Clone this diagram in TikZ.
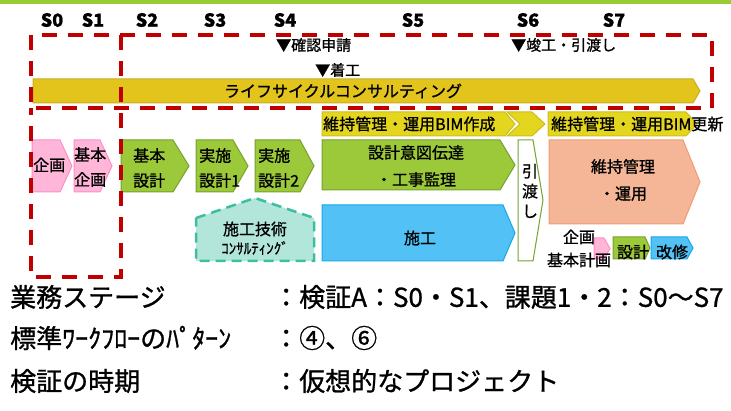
\documentclass[tikz,border=0pt]{standalone}
\usepackage{fontspec}
\setmainfont{Noto Sans CJK JP}[FakeBold=1.0]
\definecolor{topgreen}{HTML}{99CC33}
\definecolor{dred}{HTML}{C00000}
\definecolor{goldf}{HTML}{E2C41C}
\definecolor{goldl}{HTML}{C9AE22}
\definecolor{yelf}{HTML}{E4D61E}
\definecolor{yell}{HTML}{CDBE1E}
\definecolor{pinkf}{HTML}{FFB6D9}
\definecolor{pinkl}{HTML}{FF8EC6}
\definecolor{greenf}{HTML}{9BC93A}
\definecolor{greenl}{HTML}{76A22E}
\definecolor{bluef}{HTML}{52C2F6}
\definecolor{bluel}{HTML}{16A8EA}
\definecolor{salf}{HTML}{F4B696}
\definecolor{sall}{HTML}{F09C72}
\definecolor{tealf}{HTML}{B3E6DA}
\definecolor{teall}{HTML}{3DBF9F}
\newcommand\pentagon[6]{\path[#1] (#2,#3) -- (#4,#3) -- (#5,{(#3+#6)/2}) -- (#4,#6) -- (#2,#6) -- cycle;}
\tikzset{
  goldbar/.style={fill=goldf,draw=goldl,line width=1pt},
  yelbar/.style={fill=yelf,draw=yell,line width=1pt},
  pinkbox/.style={fill=pinkf,draw=pinkl,line width=1pt},
  greenbox/.style={fill=greenf,draw=greenl,line width=1pt},
  bluebox/.style={fill=bluef,draw=bluel,line width=1pt},
  salbox/.style={fill=salf,draw=sall,line width=1pt},
  whitebox/.style={fill=white,draw=greenl,line width=1pt},
  tealhouse/.style={fill=tealf,draw=teall,line width=2.5pt,dash pattern=on 10pt off 6pt},
  reddash/.style={draw=dred,line width=3.5pt,dash pattern=on 15pt off 11pt},
  stagelbl/.style={inner sep=0pt,font=\fontsize{18}{18}\selectfont\bfseries},
  txt/.style={inner sep=0pt,font=\fontsize{16}{16}\selectfont},
  twoline/.style={inner sep=0pt,align=left,font=\fontsize{16}{25}\selectfont},
  twolinec/.style={inner sep=0pt,align=center,font=\fontsize{16}{27}\selectfont},
  mile/.style={inner sep=0pt,anchor=west,font=\fontsize{15}{15}\selectfont},
  bigtxt/.style={inner sep=0pt,anchor=west,font=\fontsize{26}{26}\selectfont},
}
\begin{document}
\begin{tikzpicture}[x=1pt,y=-1pt]
\useasboundingbox (0,0) rectangle (731,411);
\fill[white] (0,0) rectangle (731,411);
\fill[topgreen] (0,0) rectangle (731,4);
% stage labels
\node[stagelbl] (s0) at (52,20) {S0};
\node[stagelbl] (s1) at (93,20) {S1};
\node[stagelbl] (s2) at (147,20) {S2};
\node[stagelbl] (s3) at (215,20) {S3};
\node[stagelbl] (s4) at (285,20) {S4};
\node[stagelbl] (s5) at (413,20) {S5};
\node[stagelbl] (s6) at (528,20) {S6};
\node[stagelbl] (s7) at (614,20) {S7};
% milestones
\node[mile] (m1) at (276,45) {▼確認申請};
\node[mile] (m2) at (315,70) {▼着工};
\node[mile] (m3) at (511,45) {▼竣工・引渡し};
% lifecycle bar
\pentagon{goldbar}{33}{79}{693}{700}{103}
\node[txt] (lc) at (343,91) {ライフサイクルコンサルティング};
% row 2 yellow
\pentagon{yelbar}{322}{112}{505}{515}{136}
\path[yelbar] (507,112) -- (532,112) -- (545,124) -- (532,136) -- (507,136) -- (520,124) -- cycle;
\pentagon{yelbar}{548}{112}{686}{697}{136}
\node[txt,anchor=west] (bim1) at (323,124) {維持管理・運用BIM作成};
\node[txt,anchor=west] (bim2) at (551,124) {維持管理・運用BIM更新};
% pink
\pentagon{pinkbox}{32}{140}{60}{72}{192}
\node[txt,anchor=west] (kikaku) at (33,165) {企画};
\pentagon{pinkbox}{74}{140}{100}{112}{192}
\node[twoline,anchor=west] (kihonkikaku) at (74,167) {基本\\企画};
% green
\pentagon{greenbox}{121}{140}{173}{189}{192}
\node[twoline,anchor=west] (kihonsekkei) at (133,168) {基本\\設計};
\pentagon{greenbox}{196}{140}{233}{248}{192}
\node[twoline,anchor=west] (jisshi1) at (199,168) {実施\\設計1};
\pentagon{greenbox}{255}{140}{300}{314}{192}
\node[twoline,anchor=west] (jisshi2) at (258,168) {実施\\設計2};
\pentagon{greenbox}{322}{140}{500}{515}{190}
\node[twolinec] (ito) at (416,166) {設計意図伝達\\・工事監理};
% blue
\pentagon{bluebox}{322}{205}{503}{515}{261}
\node[txt] (seko) at (420,238) {施工};
% hand-over
\path[whitebox] (518,140) -- (533,140) -- (543,200) -- (533,261) -- (518,261) -- cycle;
\node[inner sep=0pt,align=center,font=\fontsize{16}{20}\selectfont] (hikiwatashi) at (530,191) {引\\渡\\し};
% salmon
\pentagon{salbox}{549}{140}{683}{700}{224}
\node[twolinec] (iji) at (623,180) {維持管理\\・運用};
% teal house
\path[tealhouse] (196,218) -- (255,198) -- (314,218) -- (314,261) -- (196,261) -- cycle;
\node[txt] (gijutsu) at (255,229) {施工技術};
\node[inner sep=0pt,font=\fontsize{15}{15}\selectfont] (consul) at (255,248) {ｺﾝｻﾙﾃｨﾝｸﾞ};
% small row
\pentagon{pinkbox}{594}{238}{604}{610}{259}
\pentagon{greenbox}{613}{237}{645}{650}{259}
\pentagon{bluebox}{651}{237}{687}{693}{259}
\node[txt] (k2) at (579,237) {企画};
\node[txt] (k3) at (579,260) {基本計画};
\node[txt] (sekkei) at (633,252) {設計};
\node[txt] (kaishu) at (672,252) {改修};
% red dashed frames
\path[reddash] (31,35) rectangle (712,108);
\path[reddash] (121,35) -- (121,277) -- (31,277) -- (31,108);
% bottom text
\node[bigtxt] (b1) at (10,297) {業務ステージ};
\node[bigtxt] (b1v) at (273,297) {：検証A：S0・S1、課題1・2：S0～S7};
\node[bigtxt] (b2) at (10,338) {標準ﾜｰｸﾌﾛｰのﾊﾟﾀｰﾝ};
\node[bigtxt] (b2v) at (273,338) {：④、⑥};
\node[bigtxt] (b3) at (10,381) {検証の時期};
\node[bigtxt] (b3v) at (273,381) {：仮想的なプロジェクト};
\end{tikzpicture}
\end{document}
